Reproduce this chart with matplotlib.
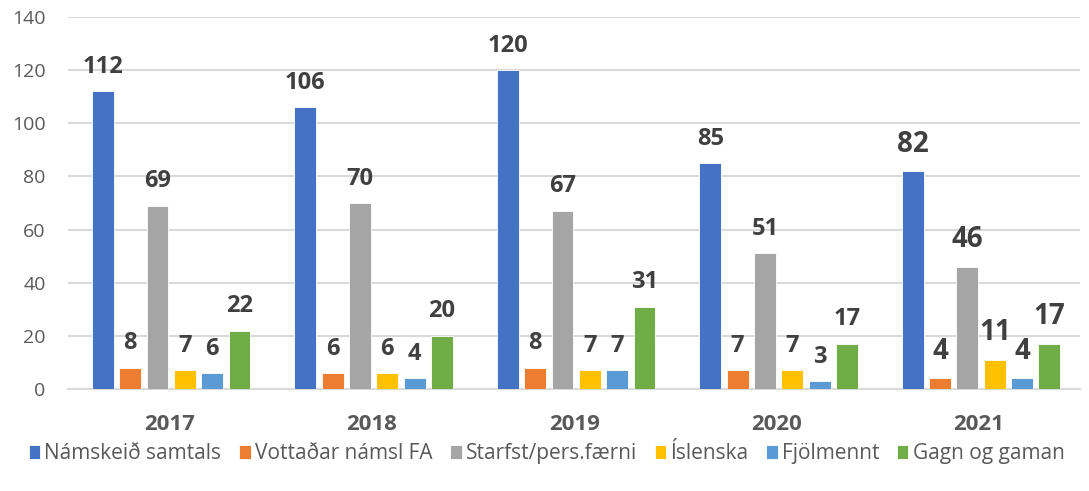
import matplotlib
matplotlib.use("Agg")
import matplotlib.pyplot as plt
import numpy as np

years = ["2017", "2018", "2019", "2020", "2021"]
series_names = ["Námskeið samtals", "Vottaðar námsl FA", "Starfst/pers.færni",
                "Íslenska", "Fjölmennt", "Gagn og gaman"]
namskeid = [112, 106, 120, 85, 82]
vottadar = [8, 6, 8, 7, 4]
starfst = [69, 70, 67, 51, 46]
islenska = [7, 6, 7, 7, 11]
fjolmennt = [6, 4, 7, 3, 4]
gagn = [22, 20, 31, 17, 17]
colors = ["#4472C4", "#ED7D31", "#A5A5A5", "#FFC000", "#5B9BD5", "#70AD47"]

plt.rcParams['font.family'] = ['Open Sans', 'DejaVu Sans']

fig = plt.figure(figsize=(10.89, 4.91), dpi=100)
ax = fig.add_axes([0.0624, 0.2077, 0.9296, 0.7577])

data = [namskeid, vottadar, starfst, islenska, fjolmennt, gagn]
x = np.arange(len(years))
slot = 0.135
bw = 0.108
for i, (vals, name, c) in enumerate(zip(data, series_names, colors)):
    pos = x + (i - 2.5) * slot + 0.01
    ax.bar(pos, vals, width=bw, color=c, label=name, zorder=3,
           edgecolor='white', linewidth=0.6)
    for j, (p, v) in enumerate(zip(pos, vals)):
        fs = 20 if j == 4 else 17
        ax.annotate(str(v), (p, v), xytext=(0, 9), textcoords='offset points',
                    ha='center', va='bottom', fontsize=fs, fontweight='bold',
                    color='#404040')

ax.set_xlim(-0.5, 4.5)
ax.set_ylim(0, 140)
ax.set_yticks(range(0, 141, 20))
ax.set_xticks(x)
ax.set_xticklabels(years, fontsize=16, fontweight='bold', color='#595959')
ax.tick_params(axis='y', labelsize=14, labelcolor='#595959', length=0, pad=16)
ax.tick_params(axis='x', length=0, pad=18)
ax.yaxis.grid(True, color='#D9D9D9', linewidth=1.5, zorder=0)
ax.set_axisbelow(True)
for s in ['top', 'right', 'left']:
    ax.spines[s].set_visible(False)
ax.spines['bottom'].set_color('#D9D9D9')
ax.spines['bottom'].set_linewidth(1.5)

fig.legend(loc='center', bbox_to_anchor=(0.502, 0.076), ncol=6, frameon=False,
           fontsize=15, handlelength=0.55, handleheight=0.7, handletextpad=0.2,
           columnspacing=0.85, labelcolor='#595959')

fig.savefig("out.png", dpi=100)
